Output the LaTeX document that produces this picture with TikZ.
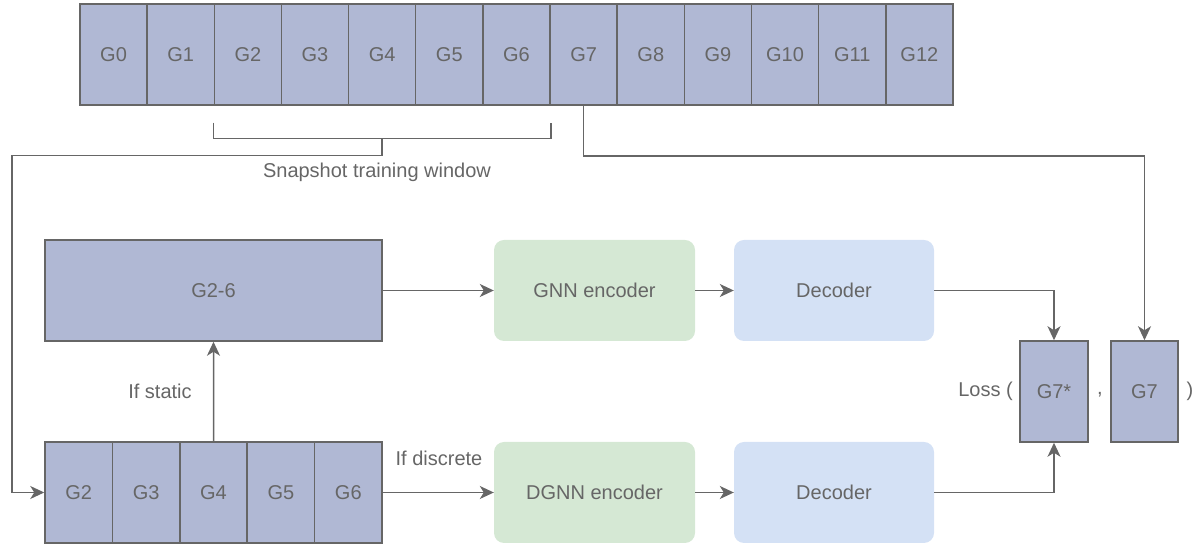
\documentclass[tikz,border=0pt]{standalone}
\usepackage{fontspec}
\setmainfont{Liberation Sans}
\usetikzlibrary{arrows.meta,calc}
\definecolor{edgegray}{HTML}{666666}
\definecolor{snapfill}{HTML}{B0B8D4}
\definecolor{encfill}{HTML}{D5E8D4}
\definecolor{decfill}{HTML}{D4E1F5}
\tikzset{
  every node/.style={font=\fontsize{20}{24}\selectfont, text=edgegray},
  gbox/.style={draw=edgegray, fill=snapfill, line width=1.5pt, inner sep=0pt,
    minimum height=101pt},
  cell/.style={gbox, minimum width=67.2pt},
  encbox/.style={fill=encfill, rounded corners=10pt, minimum height=101pt, minimum width=201pt},
  decbox/.style={fill=decfill, rounded corners=10pt, minimum height=101pt, minimum width=200pt},
  link/.style={draw=edgegray, line width=1.5pt},
  arr/.style={link, -{Stealth[length=14pt, width=13pt, inset=4pt]}},
  lbl/.style={inner sep=0pt}
}
\begin{document}
\begin{tikzpicture}[x=1pt, y=1pt]
\useasboundingbox (0,0) rectangle (1199,545);

% sequence of snapshots along the top
\foreach \i in {0,...,12} {
  \node[cell] (T\i) at ({80+67.15*(\i+0.5)}, 490.5) {G\i};
}

% snapshots of the training window, bottom left
\foreach \i/\k in {2/0,3/1,4/2,5/3,6/4} {
  \node[cell, minimum width=67.4pt] (B\i) at ({45+67.4*(\k+0.5)}, 52.5) {G\i};
}

% aggregated static graph
\node[gbox, minimum width=337pt] (S) at (213.5, 254.5) {G2-6};

% encoders and decoders
\node[encbox] (GNN) at (594.5, 254.5) {GNN encoder};
\node[decbox] (D1) at (834, 254.5) {Decoder};
\node[encbox] (DGNN) at (594.5, 52.5) {DGNN encoder};
\node[decbox] (D2) at (834, 52.5) {Decoder};

% prediction and target
\node[gbox, minimum width=68pt] (P) at (1054, 153.5) {G7*};
\node[gbox, minimum width=67pt] (R) at (1144.5, 153.5) {G7};
\node[lbl, anchor=east] (loss) at (1013, 154) {Loss (};
\node[lbl] (comma) at (1100, 150) {,};
\node[lbl] (close) at (1190, 154) {)};

% labels
\node[lbl] (win) at (377, 373) {Snapshot training window};
\node[lbl] (stat) at (160, 154) {If static};
\node[lbl] (disc) at (439, 87) {If discrete};

% bracket over the training window
\coordinate (bl) at ([yshift=-17pt]T2.south west);
\coordinate (br) at ([yshift=-17pt]T6.south east);
\draw[link] (bl) -- ++(0,-16) coordinate (bbl) -| (br);
\coordinate (bm) at ($(bbl)!0.5!(bbl -| br)$);
\coordinate (turn) at (12, 389.5);
\draw[arr] (bm) -- (bm |- turn) -- (turn) |- (B2.west);

% target snapshot down to the loss
\draw[arr] (T7.south) -- ++(0,-50.5) -| (R.north);

% static branch
\draw[arr] (B4.north) -- (S.south);
\draw[arr] (S.east) -- (GNN.west);
\draw[arr] (GNN.east) -- (D1.west);
\draw[arr] (D1.east) -| (P.north);

% discrete branch
\draw[arr] (B6.east) -- (DGNN.west);
\draw[arr] (DGNN.east) -- (D2.west);
\draw[arr] (D2.east) -| (P.south);
\end{tikzpicture}
\end{document}
